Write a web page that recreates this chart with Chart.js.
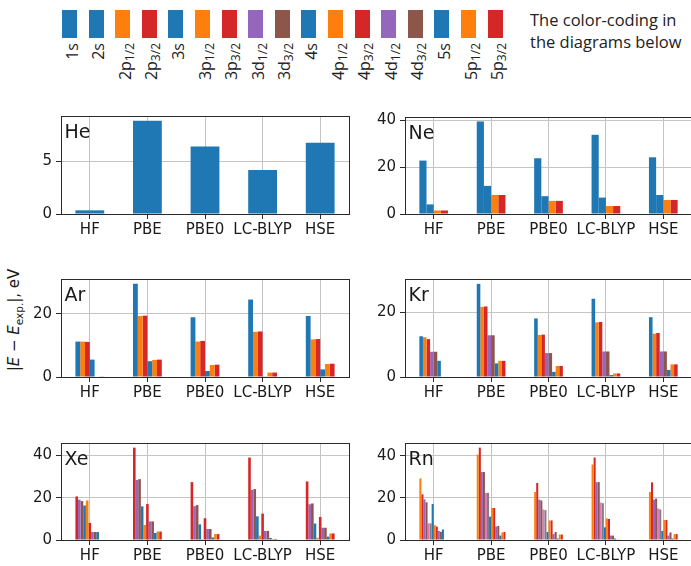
<!DOCTYPE html>
<html>
<head>
<meta charset="utf-8">
<script src="https://cdn.jsdelivr.net/npm/chart.js@4.4.1/dist/chart.umd.min.js"></script>
<style>
  body { margin: 0; background: #fff; }
  #page { position: relative; width: 691px; height: 566px; overflow: hidden; background: #fff; }
  canvas { position: absolute; }
  .sw { position: absolute; top: 10px; width: 15px; height: 28px; }
  .lab { position: absolute; top: 43px; width: 60px; height: 18px; line-height: 18px;
         font: 16px "Open Sans", sans-serif; color: #222; text-align: right; white-space: nowrap;
         transform: rotate(-90deg); transform-origin: 100% 0; }
  .lab sub { font-size: 12px; vertical-align: -3px; line-height: 0; }
  #note { position: absolute; left: 530px; top: 9px; font: 16.5px "Open Sans", sans-serif; line-height: 22px; color: #222; }
  #ytitle { position: absolute; left: 15px; top: 320px; white-space: nowrap;
            font: 15px "DejaVu Sans", sans-serif; color: #1a1a1a;
            transform: translate(-50%, -50%) rotate(-90deg); }
  #ytitle sub { font-size: 10.5px; }
</style>
</head>
<body>
<div id="page">
  <div id="legend"></div>
  <div id="note">The color-coding in<br>the diagrams below</div>
  <div id="ytitle">|<i>E</i> &minus; <i>E</i><sub>exp.</sub>|, eV</div>
</div>
<script>
const methods = ['HF', 'PBE', 'PBE0', 'LC-BLYP', 'HSE'];

// legend strip: [shell, subscript, kind]
const legendItems = [
  ['1s', '', 's'], ['2s', '', 's'], ['2p', '1/2', 'p1'], ['2p', '3/2', 'p3'], ['3s', '', 's'],
  ['3p', '1/2', 'p1'], ['3p', '3/2', 'p3'], ['3d', '1/2', 'd1'], ['3d', '3/2', 'd3'], ['4s', '', 's'],
  ['4p', '1/2', 'p1'], ['4p', '3/2', 'p3'], ['4d', '1/2', 'd1'], ['4d', '3/2', 'd3'], ['5s', '', 's'],
  ['5p', '1/2', 'p1'], ['5p', '3/2', 'p3']
];

const kindColors = {
  s: '#1f77b4', p1: '#ff7f0e', p3: '#d62728', d1: '#9467bd', d3: '#8c564b', f1: '#e377c2', f3: '#7f7f7f'
};

// He
const heOrbitals = ['s'];
const heValues = [[0.35, 8.9, 6.45, 4.2, 6.8]];

// Ne: 1s, 2s, 2p1/2, 2p3/2
const neOrbitals = ['s', 's', 'p1', 'p3'];
const neValues = [
  [22.8, 39.5, 23.8, 33.8, 24.2],
  [4.1, 12.0, 7.6, 7.0, 8.1],
  [1.5, 8.1, 5.6, 3.4, 6.0],
  [1.5, 8.1, 5.6, 3.4, 6.0]
];

// Ar: 2s, 2p1/2, 2p3/2, 3s, 3p1/2, 3p3/2
const arOrbitals = ['s', 'p1', 'p3', 's', 'p1', 'p3'];
const arValues = [
  [11.2, 29.5, 18.9, 24.5, 19.3],
  [11.2, 19.3, 11.2, 14.3, 11.9],
  [11.1, 19.4, 11.4, 14.4, 12.0],
  [5.5, 5.0, 1.9, 0.1, 2.4],
  [0, 5.4, 3.8, 1.4, 4.1],
  [0.1, 5.5, 3.9, 1.4, 4.2]
];

// Kr: 3s, 3p1/2, 3p3/2, 3d1/2, 3d3/2, 4s, 4p1/2, 4p3/2
const krOrbitals = ['s', 'p1', 'p3', 'd1', 'd3', 's', 'p1', 'p3'];
const krValues = [
  [12.6, 28.8, 18.1, 24.2, 18.5],
  [12.3, 21.7, 13.0, 16.9, 13.4],
  [11.7, 21.8, 13.1, 17.0, 13.6],
  [7.8, 12.9, 7.4, 7.9, 7.9],
  [7.8, 12.9, 7.4, 7.9, 7.9],
  [5.0, 4.2, 1.6, 0.6, 2.2],
  [0, 5.0, 3.4, 1.1, 3.9],
  [0, 5.0, 3.4, 1.1, 3.9]
];

// Xe: 3p3/2, 3d1/2, 3d3/2, 4s, 4p1/2, 4p3/2, 4d1/2, 4d3/2, 5s, 5p1/2, 5p3/2
const xeOrbitals = ['p3', 'd1', 'd3', 's', 'p1', 'p3', 'd1', 'd3', 's', 'p1', 'p3'];
const xeValues = [
  [20.6, 43.7, 27.4, 39.0, 27.7],
  [19.1, 28.4, 16.0, 23.7, 16.9],
  [18.4, 28.8, 16.5, 24.1, 17.3],
  [16.3, 15.9, 7.4, 11.2, 7.8],
  [18.7, 7.1, 0.4, 2.1, 1.0],
  [8.1, 17.0, 10.3, 12.5, 10.9],
  [3.8, 8.8, 5.2, 4.3, 5.8],
  [3.8, 8.8, 5.2, 4.3, 5.8],
  [3.8, 3.3, 1.2, 1.0, 1.6],
  [0, 4.0, 2.8, 0.5, 3.1],
  [0, 4.0, 2.8, 0.5, 3.1]
];

// Rn: 4p1/2, 4p3/2, 4d, 4d, 4f, 4f, 5s, 5p1/2, 5p3/2, 5d, 5d, 6s, 6p1/2, 6p3/2
const rnOrbitals = ['p1', 'p3', 'd1', 'd3', 'f1', 'f3', 's', 'p1', 'p3', 'd1', 'd3', 's', 'p1', 'p3'];
const rnValues = [
  [29.3, 40.6, 22.8, 35.9, 22.8],
  [21.7, 43.9, 27.1, 39.2, 27.4],
  [19.3, 32.3, 19.2, 27.5, 19.2],
  [17.9, 32.3, 18.8, 27.5, 19.7],
  [7.9, 22.4, 14.5, 17.8, 15.0],
  [7.9, 22.4, 14.2, 17.5, 14.5],
  [17.1, 11.1, 3.8, 6.0, 4.3],
  [7.1, 15.2, 9.3, 10.3, 9.5],
  [6.4, 15.2, 9.3, 10.0, 9.5],
  [4.3, 6.4, 2.8, 2.1, 2.1],
  [3.9, 6.7, 3.8, 2.1, 3.6],
  [5.0, 2.1, 0.7, 0.7, 0.7],
  [0, 3.6, 2.6, 0.3, 2.8],
  [0, 3.8, 2.6, 0.3, 2.8]
];

const panels = [
  { name: 'He', kinds: heOrbitals, values: heValues, ymax: 9.35, step: 5, left: 0, top: 105, bottom: 214 },
  { name: 'Ne', kinds: neOrbitals, values: neValues, ymax: 41.4, step: 20, left: 350, top: 106, bottom: 214 },
  { name: 'Ar', kinds: arOrbitals, values: arValues, ymax: 31, step: 20, left: 0, top: 268, bottom: 377 },
  { name: 'Kr', kinds: krOrbitals, values: krValues, ymax: 30.3, step: 20, left: 350, top: 268, bottom: 377 },
  { name: 'Xe', kinds: xeOrbitals, values: xeValues, ymax: 45.9, step: 20, left: 0, top: 432, bottom: 540 },
  { name: 'Rn', kinds: rnOrbitals, values: rnValues, ymax: 46.1, step: 20, left: 350, top: 432, bottom: 540 }
];

const page = document.getElementById('page');

// legend swatches
const legend = document.getElementById('legend');
legendItems.forEach((item, i) => {
  const x = 62 + i * 26.6;
  const sw = document.createElement('div');
  sw.className = 'sw';
  sw.style.left = x + 'px';
  sw.style.background = kindColors[item[2]];
  legend.appendChild(sw);
  const lab = document.createElement('div');
  lab.className = 'lab';
  lab.style.left = (x + 7.5 - 9 - 60) + 'px';
  lab.innerHTML = item[0] + (item[1] ? '<sub>' + item[1] + '</sub>' : '');
  legend.appendChild(lab);
});

const frameAndLabel = {
  id: 'frameAndLabel',
  afterDatasetsDraw(chart, args, opts) {
    const { ctx, chartArea: a } = chart;
    ctx.save();
    ctx.strokeStyle = '#2a2a2a';
    ctx.lineWidth = 1;
    ctx.strokeRect(Math.round(a.left) + 0.5, Math.round(a.top) + 0.5,
      Math.round(a.right - a.left), Math.round(a.bottom - a.top));
    ctx.fillStyle = '#1a1a1a';
    ctx.font = '19px "DejaVu Sans"';
    ctx.textBaseline = 'alphabetic';
    ctx.fillText(opts.name, a.left + 3.5, a.top + 22);
    ctx.restore();
  }
};

const PAD_TOP = 2, X_AXIS_H = 30;

panels.forEach(p => {
  const yw = p.left === 0 ? 61 : 55;
  const width = p.left === 0 ? 352 : 345;
  const height = PAD_TOP + (p.bottom - p.top) + X_AXIS_H;
  const canvas = document.createElement('canvas');
  canvas.width = width;
  canvas.height = height;
  canvas.style.left = p.left + 'px';
  canvas.style.top = (p.top - PAD_TOP) + 'px';
  page.appendChild(canvas);

  new Chart(canvas.getContext('2d'), {
    type: 'bar',
    data: {
      labels: methods,
      datasets: p.values.map((vals, i) => ({
        data: vals,
        backgroundColor: kindColors[p.kinds[i]],
        borderWidth: 0,
        categoryPercentage: 0.5,
        barPercentage: 1.0
      }))
    },
    options: {
      responsive: false,
      animation: false,
      events: [],
      layout: { padding: { top: PAD_TOP, right: 3, left: 0, bottom: 0 } },
      plugins: { legend: { display: false }, tooltip: { enabled: false }, frameAndLabel: { name: p.name } },
      scales: {
        x: {
          offset: true,
          border: { display: false },
          grid: { offset: false, color: '#c4c4c4', lineWidth: 1, tickColor: '#2a2a2a', tickLength: 5 },
          ticks: { color: '#1a1a1a', font: { family: 'DejaVu Sans', size: 15 }, padding: 2, maxRotation: 0, autoSkip: false },
          afterFit(scale) { scale.height = X_AXIS_H; }
        },
        y: {
          min: 0,
          max: p.ymax,
          border: { display: false },
          grid: { color: '#c4c4c4', lineWidth: 1, tickColor: '#2a2a2a', tickLength: 5 },
          ticks: { stepSize: p.step, includeBounds: false, color: '#1a1a1a', font: { family: 'DejaVu Sans', size: 15 }, padding: 4 },
          afterFit(scale) { scale.width = yw; }
        }
      }
    },
    plugins: [frameAndLabel]
  });
});
</script>
</body>
</html>
